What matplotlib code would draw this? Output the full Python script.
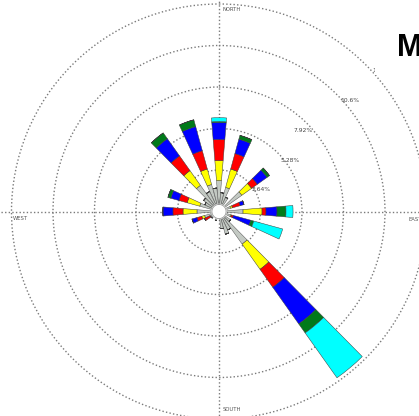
import numpy as np
import matplotlib
matplotlib.use("Agg")
import matplotlib.pyplot as plt

# ---- data (percent frequency per direction, stacked by speed class) ----
directions = [0, 20, 50, 70, 90, 110, 140, 240, 250, 270, 290, 320, 340,
              10, 30, 130, 150, 160, 170, 200, 230, 300, 310, 330, 350]
cls_gray   = [1.97, 1.59, 1.78, 0.76, 1.53, 0.76, 2.54, 0.64, 0.95, 1.40, 1.27, 2.04, 1.78,
              1.2, 1.0, 0.9, 1.3, 1.5, 1.1, 0.6, 0.6, 1.0, 1.2, 1.4, 1.5]
cls_yellow = [1.27, 1.21, 0.76, 0.13, 1.21, 0.06, 1.97, 0.00, 0.19, 0.89, 0.83, 1.15, 1.02] + [0] * 12
cls_red    = [1.34, 1.02, 0.45, 0.51, 0.25, 0.13, 1.40, 0.38, 0.32, 0.64, 0.54, 1.15, 1.21] + [0] * 12
cls_blue   = [1.08, 0.95, 0.76, 0.25, 0.70, 1.15, 2.86, 0.00, 0.32, 0.64, 0.54, 1.34, 1.59] + [0] * 12
cls_green  = [0.06, 0.25, 0.19, 0.00, 0.57, 0.19, 0.70, 0.00, 0.00, 0.00, 0.19, 0.45, 0.45] + [0] * 12
cls_cyan   = [0.25, 0.00, 0.00, 0.00, 0.45, 1.91, 3.50, 0.00, 0.00, 0.00, 0.00, 0.00, 0.00] + [0] * 12

classes = [cls_gray, cls_yellow, cls_red, cls_blue, cls_green, cls_cyan]
colors = ["#c3c9c3", "#ffff00", "#ff0000", "#0000ff", "#007a1a", "#00ffff"]

ring_values = [2.64, 5.28, 7.92, 10.56, 13.2]
ring_labels = ["2.64%", "5.28%", "7.92%", "10.6%", "13.2%"]
compass_labels = ["NORTH", "EAST", "SOUTH", "WEST"]

# ---- figure ----
W, H = 419, 416
fig = plt.figure(figsize=(W / 100, H / 100), dpi=100)
fig.patch.set_facecolor("white")

cx, cy = 219, 416 - 211.5
R = 16.0
Rpx = R * 15.72
ax = fig.add_axes([(cx - Rpx) / W, (cy - Rpx) / H, 2 * Rpx / W, 2 * Rpx / H], projection="polar")
ax.set_theta_zero_location("N")
ax.set_theta_direction(-1)
ax.set_ylim(0, R)
ax.spines["polar"].set_visible(False)
ax.set_facecolor("none")
ax.set_rticks(ring_values)
ax.set_yticklabels([])
ax.set_thetagrids([0, 90, 180, 270], labels=[])
ax.grid(True, color="#7a7a7a", linestyle=(0, (1, 1.6)), linewidth=1.0)
ax.tick_params(length=0)

theta = np.radians(directions)
width = np.radians(9.3)
bottom = np.zeros(len(directions))
for vals, col in zip(classes, colors):
    v = np.array(vals, dtype=float)
    ax.bar(theta, v, width=width, bottom=bottom, color=col,
           edgecolor="#555555" if col == colors[0] else "#3a3a3a", linewidth=0.35, zorder=3)
    bottom = bottom + v

# center circle
tt = np.linspace(0, 2 * np.pi, 100)
ax.fill(tt, np.full_like(tt, 0.45), color="white", zorder=5)
ax.plot(tt, np.full_like(tt, 0.45), color="#999999", linewidth=0.6, zorder=6)

# ring labels
label_pos = [(62.4, 3.02), (54.3, 5.56), (45.9, 7.44), (49.6, 10.94), (49.0, 13.7)]
for (ang, r), txt in zip(label_pos, ring_labels):
    ax.text(np.radians(ang), r, txt, fontsize=4.3, color="#444444",
            ha="center", va="center", zorder=4)

# compass labels
fig.text(222 / W, 1 - 9.5 / H, compass_labels[0], fontsize=3.8, color="#555555", ha="left", va="center")
fig.text(408 / W, 1 - 219.5 / H, compass_labels[1], fontsize=3.8, color="#555555", ha="left", va="center")
fig.text(223 / W, 1 - 409.5 / H, compass_labels[2], fontsize=3.8, color="#555555", ha="left", va="center")
fig.text(13 / W, 1 - 218 / H, compass_labels[3], fontsize=3.8, color="#555555", ha="left", va="center")

# title fragment
fig.patches.append(plt.Rectangle((375 / W, 1 - 75 / H), 44 / W, 55 / H, transform=fig.transFigure,
                                 facecolor="white", edgecolor="none", zorder=10))
fig.text(397 / W, 1 - 48.5 / H, "M", fontsize=22, fontweight="bold", family="Liberation Sans",
         color="black", ha="left", va="center", zorder=11)

fig.savefig("out.png", dpi=100, facecolor="white")
